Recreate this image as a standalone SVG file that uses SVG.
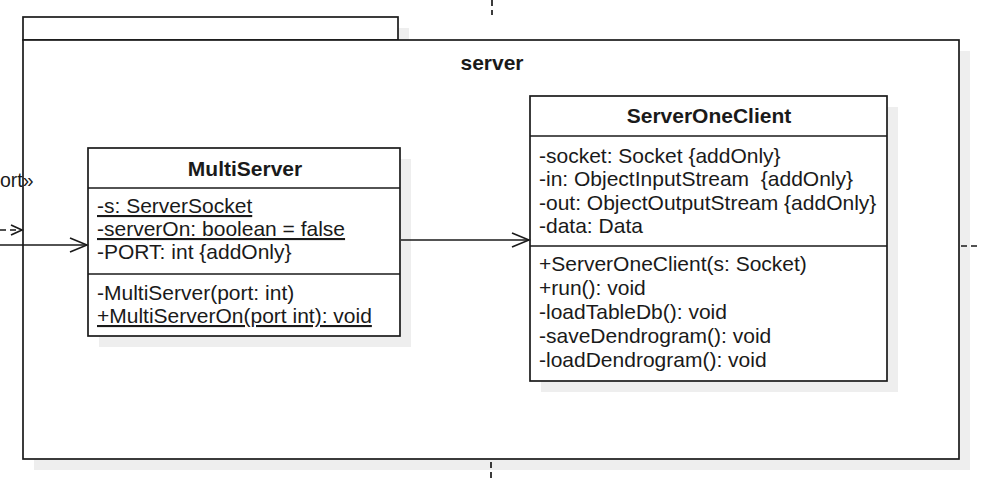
<svg xmlns="http://www.w3.org/2000/svg" width="981" height="480" viewBox="0 0 981 480">
<style>
.shadow{fill:#eeeeee;stroke:none}
.box{fill:#ffffff;stroke:#1a1a1a;stroke-width:1.7}
.line{stroke:#1a1a1a;stroke-width:1.7;fill:none}
.dash{stroke:#1a1a1a;stroke-width:1.7;fill:none;stroke-dasharray:6 4}
.t{font-family:"Liberation Sans",Arial,sans-serif;font-size:21px;fill:#1a1a1a}
.b{font-family:"Liberation Sans",Arial,sans-serif;font-size:21px;font-weight:bold;fill:#1a1a1a;text-anchor:middle}
.u{text-decoration:underline}
</style>
<defs>
<marker id="open" markerWidth="20" markerHeight="16" refX="18" refY="8" orient="auto" markerUnits="userSpaceOnUse">
<path d="M1,1 L18,8 L1,15" fill="none" stroke="#1a1a1a" stroke-width="1.7"/>
</marker>
<marker id="openSmall" markerWidth="14" markerHeight="12" refX="12" refY="6" orient="auto" markerUnits="userSpaceOnUse">
<path d="M1,1 L12,6 L1,11" fill="none" stroke="#1a1a1a" stroke-width="1.7"/>
</marker>
</defs>
<rect width="981" height="480" fill="#ffffff"/>

<g id="package-server">
<rect class="shadow" x="34" y="28" width="375" height="23"/>
<rect class="shadow" x="34" y="51" width="936" height="419"/>
<rect class="box" x="23" y="17" width="375" height="23"/>
<rect class="box" x="23" y="40" width="936" height="419"/>
<text class="b" x="492" y="70">server</text>
</g>

<g id="MultiServer">
<rect class="shadow" x="99" y="159" width="312" height="188"/>
<rect class="box" x="88" y="148" width="312" height="188"/>
<line class="line" x1="88" y1="188" x2="400" y2="188"/>
<line class="line" x1="88" y1="274" x2="400" y2="274"/>
<text class="b" x="245" y="176">MultiServer</text>
<text class="t u" x="97" y="213">-s: ServerSocket</text>
<text class="t u" x="97" y="236">-serverOn: boolean = false</text>
<text class="t" x="97" y="259">-PORT: int {addOnly}</text>
<text class="t" x="97" y="300">-MultiServer(port: int)</text>
<text class="t u" x="97" y="323">+MultiServerOn(port int): void</text>
</g>

<g id="ServerOneClient">
<rect class="shadow" x="541" y="107" width="357" height="285"/>
<rect class="box" x="530" y="96" width="357" height="285"/>
<line class="line" x1="530" y1="136" x2="887" y2="136"/>
<line class="line" x1="530" y1="246" x2="887" y2="246"/>
<text class="b" x="709" y="123">ServerOneClient</text>
<text class="t" x="539" y="163">-socket: Socket {addOnly}</text>
<text class="t" x="539" y="186" xml:space="preserve">-in: ObjectInputStream  {addOnly}</text>
<text class="t" x="539" y="210">-out: ObjectOutputStream {addOnly}</text>
<text class="t" x="539" y="233">-data: Data</text>
<text class="t" x="539" y="271">+ServerOneClient(s: Socket)</text>
<text class="t" x="539" y="295">+run(): void</text>
<text class="t" x="539" y="319">-loadTableDb(): void</text>
<text class="t" x="539" y="343">-saveDendrogram(): void</text>
<text class="t" x="539" y="367">-loadDendrogram(): void</text>
</g>

<g id="connectors">
<line class="dash" x1="492" y1="0" x2="492" y2="15"/>
<line class="dash" x1="491" y1="462" x2="491" y2="480"/>
<line class="dash" x1="961" y1="246" x2="981" y2="246"/>
<line class="dash" x1="0" y1="230" x2="22" y2="230" marker-end="url(#openSmall)"/>
<text class="t" x="0" y="187" style="font-size:19.5px">ort»</text>
<line class="line" x1="0" y1="245" x2="87" y2="245" marker-end="url(#open)"/>
<line class="line" x1="401" y1="240" x2="529" y2="240" marker-end="url(#open)"/>
</g>
</svg>
